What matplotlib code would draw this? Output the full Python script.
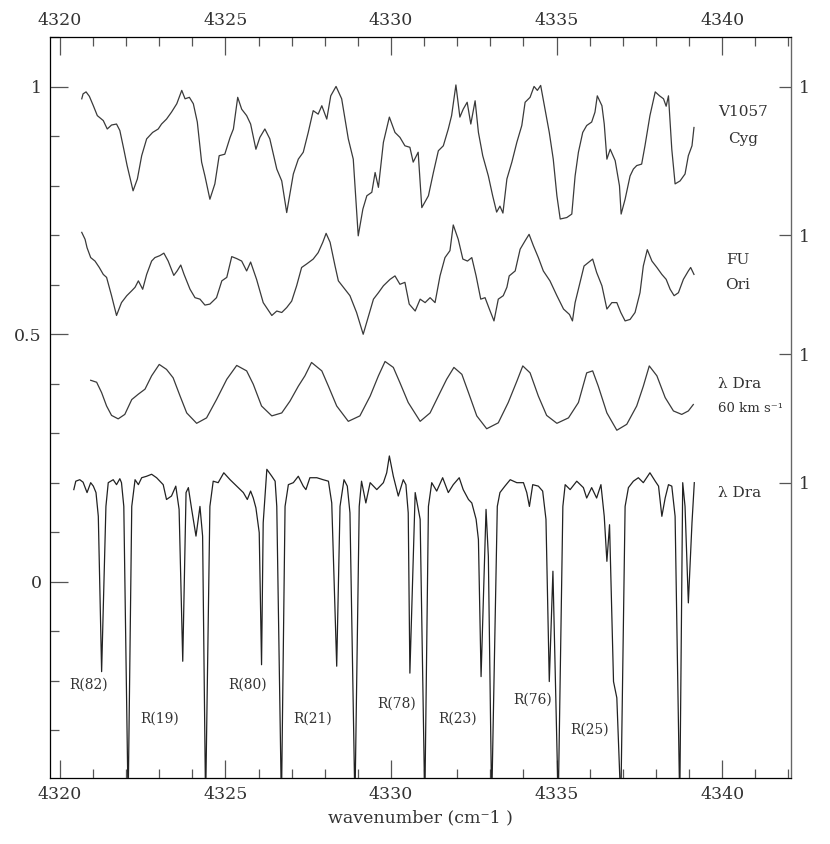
import matplotlib.pyplot as plt
from matplotlib.ticker import MultipleLocator

plt.rcParams['font.family'] = ['DejaVu Serif']

# V1057 Cyg (shifted spectrum as plotted)
v1057_wn = [4320.66, 4320.70, 4320.79, 4320.89, 4321.01, 4321.13, 4321.31, 4321.43, 4321.56, 4321.71,
            4321.81, 4321.93, 4322.03, 4322.21, 4322.34, 4322.47, 4322.62, 4322.80, 4322.97, 4323.07,
            4323.22, 4323.37, 4323.53, 4323.68, 4323.78, 4323.91, 4324.03, 4324.15, 4324.28, 4324.38,
            4324.53, 4324.68, 4324.81, 4324.98, 4325.14, 4325.24, 4325.37, 4325.49, 4325.64, 4325.76,
            4325.92, 4326.04, 4326.19, 4326.34, 4326.55, 4326.70, 4326.85, 4327.05, 4327.20, 4327.35,
            4327.50, 4327.65, 4327.80, 4327.91, 4328.06, 4328.18, 4328.34, 4328.51, 4328.71, 4328.86,
            4329.01, 4329.15, 4329.27, 4329.42, 4329.52, 4329.62, 4329.77, 4329.95, 4330.12, 4330.27,
            4330.42, 4330.57, 4330.67, 4330.82, 4330.93, 4331.13, 4331.28, 4331.43, 4331.58, 4331.73,
            4331.83, 4331.96, 4332.08, 4332.18, 4332.30, 4332.41, 4332.54, 4332.64, 4332.77, 4332.94,
            4333.07, 4333.19, 4333.29, 4333.38, 4333.50, 4333.65, 4333.80, 4333.95, 4334.05, 4334.20,
            4334.32, 4334.42, 4334.52, 4334.65, 4334.78, 4334.90, 4335.01, 4335.11, 4335.31, 4335.46,
            4335.56, 4335.66, 4335.79, 4335.91, 4336.06, 4336.16, 4336.23, 4336.37, 4336.44, 4336.52,
            4336.62, 4336.77, 4336.90, 4336.95, 4337.07, 4337.22, 4337.32, 4337.42, 4337.57, 4337.67,
            4337.82, 4337.98, 4338.11, 4338.23, 4338.31, 4338.38, 4338.48, 4338.58, 4338.73, 4338.88,
            4338.98, 4339.09, 4339.15]
v1057_flux = [0.976, 0.986, 0.990, 0.981, 0.962, 0.942, 0.932, 0.915, 0.923, 0.925,
              0.912, 0.874, 0.841, 0.790, 0.814, 0.861, 0.895, 0.908, 0.915, 0.925,
              0.935, 0.949, 0.966, 0.993, 0.976, 0.979, 0.966, 0.929, 0.848, 0.820,
              0.773, 0.804, 0.861, 0.864, 0.898, 0.915, 0.979, 0.955, 0.942, 0.925,
              0.874, 0.898, 0.915, 0.895, 0.834, 0.810, 0.746, 0.824, 0.854, 0.868,
              0.908, 0.952, 0.945, 0.962, 0.935, 0.982, 1.001, 0.976, 0.895, 0.854,
              0.699, 0.753, 0.780, 0.787, 0.827, 0.797, 0.888, 0.939, 0.908, 0.898,
              0.881, 0.878, 0.848, 0.868, 0.756, 0.780, 0.827, 0.871, 0.881, 0.915,
              0.942, 1.004, 0.939, 0.955, 0.969, 0.925, 0.972, 0.908, 0.861, 0.820,
              0.780, 0.747, 0.759, 0.745, 0.814, 0.848, 0.888, 0.922, 0.969, 0.979,
              1.001, 0.993, 1.003, 0.955, 0.908, 0.854, 0.780, 0.733, 0.736, 0.743,
              0.820, 0.868, 0.908, 0.922, 0.929, 0.949, 0.982, 0.962, 0.925, 0.854,
              0.874, 0.851, 0.800, 0.743, 0.773, 0.820, 0.834, 0.841, 0.844, 0.881,
              0.942, 0.990, 0.982, 0.976, 0.961, 0.982, 0.874, 0.804, 0.810, 0.824,
              0.861, 0.881, 0.918]

# FU Ori
fuori_wn = [4320.66, 4320.76, 4320.82, 4320.93, 4321.06, 4321.19, 4321.31, 4321.41, 4321.56, 4321.71,
            4321.86, 4322.02, 4322.17, 4322.27, 4322.37, 4322.50, 4322.62, 4322.77, 4322.87, 4323.02,
            4323.14, 4323.27, 4323.44, 4323.54, 4323.65, 4323.75, 4323.93, 4324.08, 4324.23, 4324.38,
            4324.53, 4324.73, 4324.89, 4325.04, 4325.19, 4325.34, 4325.49, 4325.64, 4325.76, 4325.94,
            4326.14, 4326.40, 4326.55, 4326.70, 4326.85, 4327.00, 4327.15, 4327.30, 4327.45, 4327.65,
            4327.80, 4327.94, 4328.04, 4328.16, 4328.31, 4328.41, 4328.56, 4328.76, 4328.96, 4329.16,
            4329.31, 4329.47, 4329.62, 4329.77, 4329.97, 4330.12, 4330.27, 4330.42, 4330.55, 4330.73,
            4330.88, 4331.03, 4331.18, 4331.33, 4331.48, 4331.63, 4331.78, 4331.88, 4332.03, 4332.17,
            4332.31, 4332.44, 4332.57, 4332.71, 4332.84, 4332.97, 4333.11, 4333.24, 4333.39, 4333.50,
            4333.57, 4333.75, 4333.90, 4334.05, 4334.17, 4334.30, 4334.45, 4334.60, 4334.80, 4335.01,
            4335.21, 4335.39, 4335.48, 4335.56, 4335.71, 4335.83, 4335.96, 4336.09, 4336.21, 4336.37,
            4336.52, 4336.67, 4336.82, 4336.94, 4337.07, 4337.22, 4337.37, 4337.52, 4337.62, 4337.74,
            4337.88, 4338.03, 4338.18, 4338.31, 4338.43, 4338.55, 4338.68, 4338.83, 4338.98, 4339.05,
            4339.15]
fuori_flux = [0.706, 0.692, 0.675, 0.655, 0.648, 0.635, 0.621, 0.615, 0.578, 0.538,
              0.564, 0.578, 0.588, 0.595, 0.608, 0.591, 0.621, 0.648, 0.655, 0.659,
              0.664, 0.648, 0.619, 0.628, 0.640, 0.621, 0.591, 0.574, 0.571, 0.559,
              0.561, 0.574, 0.608, 0.615, 0.657, 0.653, 0.648, 0.628, 0.646, 0.611,
              0.564, 0.538, 0.547, 0.544, 0.554, 0.567, 0.598, 0.635, 0.642, 0.652,
              0.665, 0.686, 0.704, 0.686, 0.638, 0.608, 0.595, 0.578, 0.544, 0.500,
              0.534, 0.571, 0.584, 0.598, 0.611, 0.618, 0.601, 0.605, 0.561, 0.547,
              0.571, 0.564, 0.574, 0.564, 0.618, 0.655, 0.669, 0.721, 0.692, 0.652,
              0.648, 0.655, 0.618, 0.571, 0.574, 0.551, 0.527, 0.571, 0.578, 0.595,
              0.618, 0.628, 0.672, 0.689, 0.702, 0.679, 0.655, 0.628, 0.608, 0.578,
              0.551, 0.540, 0.527, 0.564, 0.605, 0.638, 0.645, 0.652, 0.625, 0.598,
              0.551, 0.564, 0.564, 0.544, 0.527, 0.530, 0.544, 0.584, 0.638, 0.671,
              0.648, 0.635, 0.621, 0.611, 0.591, 0.578, 0.584, 0.611, 0.628, 0.635,
              0.621]

# lambda Dra broadened to 60 km/s
broad_wn = [4320.93, 4321.11, 4321.26, 4321.41, 4321.56, 4321.76, 4321.96, 4322.17, 4322.37, 4322.57,
            4322.77, 4323.00, 4323.22, 4323.42, 4323.63, 4323.83, 4324.13, 4324.43, 4324.73, 4325.04,
            4325.34, 4325.64, 4325.84, 4326.09, 4326.40, 4326.70, 4326.95, 4327.20, 4327.40, 4327.60,
            4327.91, 4328.11, 4328.36, 4328.71, 4329.06, 4329.37, 4329.62, 4329.82, 4330.07, 4330.27,
            4330.52, 4330.88, 4331.18, 4331.48, 4331.68, 4331.90, 4332.14, 4332.34, 4332.59, 4332.89,
            4333.24, 4333.54, 4333.80, 4333.98, 4334.20, 4334.45, 4334.70, 4335.01, 4335.36, 4335.66,
            4335.91, 4336.09, 4336.26, 4336.52, 4336.82, 4337.12, 4337.42, 4337.62, 4337.80, 4338.03,
            4338.28, 4338.53, 4338.78, 4338.98, 4339.13]
broad_flux = [0.407, 0.403, 0.382, 0.355, 0.336, 0.329, 0.338, 0.368, 0.379, 0.389,
              0.416, 0.439, 0.429, 0.412, 0.375, 0.341, 0.320, 0.331, 0.368, 0.409,
              0.437, 0.426, 0.399, 0.355, 0.335, 0.341, 0.365, 0.395, 0.416, 0.443,
              0.426, 0.395, 0.355, 0.324, 0.335, 0.375, 0.416, 0.445, 0.433, 0.402,
              0.362, 0.324, 0.341, 0.382, 0.409, 0.433, 0.419, 0.382, 0.335, 0.309,
              0.321, 0.362, 0.405, 0.436, 0.422, 0.375, 0.336, 0.320, 0.331, 0.362,
              0.422, 0.426, 0.395, 0.341, 0.306, 0.318, 0.355, 0.395, 0.436, 0.416,
              0.372, 0.345, 0.338, 0.345, 0.358]

# lambda Dra observed (telluric-rich); deep lines run off the bottom
ldra_wn = [4320.42, 4320.48, 4320.60, 4320.70, 4320.82, 4320.93, 4321.01, 4321.09, 4321.16, 4321.26,
           4321.39, 4321.46, 4321.61, 4321.71, 4321.81, 4321.86, 4321.93, 4322.06, 4322.17, 4322.27,
           4322.37, 4322.47, 4322.62, 4322.77, 4322.92, 4323.12, 4323.22, 4323.37, 4323.50, 4323.60,
           4323.71, 4323.81, 4323.88, 4323.98, 4324.11, 4324.23, 4324.31, 4324.40, 4324.53, 4324.63,
           4324.78, 4324.95, 4325.14, 4325.34, 4325.54, 4325.66, 4325.76, 4325.84, 4325.92, 4326.02,
           4326.09, 4326.14, 4326.25, 4326.40, 4326.50, 4326.55, 4326.69, 4326.80, 4326.90, 4327.05,
           4327.20, 4327.35, 4327.43, 4327.55, 4327.76, 4327.95, 4328.11, 4328.21, 4328.36, 4328.46,
           4328.58, 4328.68, 4328.76, 4328.91, 4329.04, 4329.11, 4329.24, 4329.37, 4329.57, 4329.77,
           4329.87, 4329.95, 4330.07, 4330.22, 4330.37, 4330.45, 4330.52, 4330.57, 4330.73, 4330.88,
           4331.02, 4331.13, 4331.23, 4331.38, 4331.56, 4331.73, 4331.88, 4332.06, 4332.18, 4332.34,
           4332.44, 4332.57, 4332.64, 4332.72, 4332.87, 4332.94, 4333.04, 4333.21, 4333.29, 4333.44,
           4333.60, 4333.80, 4334.00, 4334.10, 4334.18, 4334.28, 4334.45, 4334.58, 4334.68, 4334.78,
           4334.89, 4335.05, 4335.19, 4335.26, 4335.41, 4335.61, 4335.81, 4335.91, 4336.06, 4336.21,
           4336.34, 4336.44, 4336.52, 4336.60, 4336.72, 4336.82, 4336.94, 4337.07, 4337.17, 4337.32,
           4337.47, 4337.62, 4337.82, 4337.98, 4338.08, 4338.18, 4338.28, 4338.38, 4338.48, 4338.58,
           4338.72, 4338.81, 4338.88, 4338.98, 4339.09, 4339.16]
ldra_flux = [0.186, 0.203, 0.206, 0.201, 0.180, 0.200, 0.193, 0.180, 0.132, -0.182,
             0.152, 0.200, 0.206, 0.196, 0.208, 0.200, 0.152, -0.45, 0.152, 0.206,
             0.196, 0.210, 0.213, 0.217, 0.210, 0.196, 0.166, 0.173, 0.193, 0.146,
             -0.161, 0.180, 0.190, 0.146, 0.092, 0.152, 0.092, -0.45, 0.152, 0.203,
             0.200, 0.220, 0.206, 0.193, 0.180, 0.166, 0.183, 0.169, 0.149, 0.099,
             -0.168, 0.119, 0.227, 0.213, 0.203, 0.152, -0.45, 0.152, 0.196, 0.200,
             0.213, 0.193, 0.186, 0.210, 0.210, 0.206, 0.203, 0.159, -0.171, 0.152,
             0.206, 0.193, 0.139, -0.45, 0.152, 0.203, 0.159, 0.200, 0.186, 0.200,
             0.220, 0.254, 0.213, 0.173, 0.206, 0.196, 0.139, -0.185, 0.180, 0.126,
             -0.45, 0.152, 0.200, 0.183, 0.210, 0.180, 0.196, 0.210, 0.186, 0.166,
             0.159, 0.126, 0.085, -0.192, 0.146, 0.051, -0.45, 0.152, 0.180, 0.193,
             0.206, 0.200, 0.200, 0.180, 0.152, 0.196, 0.193, 0.183, 0.126, -0.202,
             0.021, -0.45, 0.152, 0.196, 0.186, 0.203, 0.190, 0.169, 0.190, 0.169,
             0.196, 0.132, 0.041, 0.115, -0.202, -0.235, -0.45, 0.152, 0.190, 0.203,
             0.210, 0.200, 0.220, 0.203, 0.193, 0.132, 0.169, 0.196, 0.193, 0.132,
             -0.45, 0.200, 0.152, -0.043, 0.119, 0.200]

# continuum level "1" of each spectrum (right axis)
continuum_levels = [1.0, 0.70, 0.46, 0.20]

# line identifications
line_names = ['R(82)', 'R(19)', 'R(80)', 'R(21)', 'R(78)', 'R(23)', 'R(76)', 'R(25)']
line_wn = [4320.88, 4323.02, 4325.68, 4327.64, 4330.18, 4332.02, 4334.29, 4336.01]
line_y = [-0.208, -0.277, -0.208, -0.277, -0.247, -0.277, -0.238, -0.299]

fig = plt.figure(figsize=(8.3, 8.44), dpi=100)
ax = fig.add_axes([0.0602, 0.0782, 0.8928, 0.8780])

ax.plot(v1057_wn, v1057_flux, color='#3a3a3a', lw=0.9)
ax.plot(fuori_wn, fuori_flux, color='#3a3a3a', lw=0.9)
ax.plot(broad_wn, broad_flux, color='#3a3a3a', lw=0.9)
ax.plot(ldra_wn, ldra_flux, color='#222222', lw=0.9)

for name, xx, yy in zip(line_names, line_wn, line_y):
    ax.text(xx, yy, name, fontsize=10, ha='center', va='center', color='#333333')

ax.text(4340.62, 0.949, 'V1057', fontsize=11, ha='center', va='center', color='#333333')
ax.text(4340.62, 0.895, 'Cyg', fontsize=11, ha='center', va='center', color='#333333')
ax.text(4340.48, 0.650, 'FU', fontsize=11, ha='center', va='center', color='#333333')
ax.text(4340.48, 0.599, 'Ori', fontsize=11, ha='center', va='center', color='#333333')
ax.text(4340.54, 0.399, 'λ Dra', fontsize=11, ha='center', va='center', color='#333333')
ax.text(4340.85, 0.350, '60 km s⁻¹', fontsize=9.5, ha='center', va='center', color='#333333')
ax.text(4340.54, 0.180, 'λ Dra', fontsize=11, ha='center', va='center', color='#333333')

ax.set_xlim(4319.70, 4342.08)
ax.set_ylim(-0.397, 1.101)
ax.xaxis.set_major_locator(MultipleLocator(5))
ax.xaxis.set_minor_locator(MultipleLocator(1))
ax.yaxis.set_major_locator(MultipleLocator(0.5))
ax.yaxis.set_minor_locator(MultipleLocator(0.1))
ax.set_yticks([0, 0.5, 1])
ax.set_yticklabels(['0', '0.5', '1'])
ax.tick_params(which='both', direction='in', top=True, labeltop=True, right=False,
               labelsize=12.5, colors='#555555', labelcolor='#333333', width=0.9)
ax.tick_params(which='major', length=13, pad=6)
ax.tick_params(which='minor', length=6.5)
ax.set_xlabel('wavenumber (cm⁻1 )', fontsize=12.5, color='#333333', labelpad=4)
for sp in ax.spines.values():
    sp.set_color('#666666')
    sp.set_linewidth(0.9)

ax2 = ax.twinx()
ax2.set_ylim(ax.get_ylim())
ax2.set_yticks(continuum_levels)
ax2.set_yticklabels(['1'] * len(continuum_levels))
ax2.tick_params(axis='y', direction='in', length=9, labelsize=12.5, colors='#555555',
                labelcolor='#333333', width=0.9, pad=6)
ax2.spines['right'].set_color('#666666')

plt.savefig('out.png', dpi=100)
